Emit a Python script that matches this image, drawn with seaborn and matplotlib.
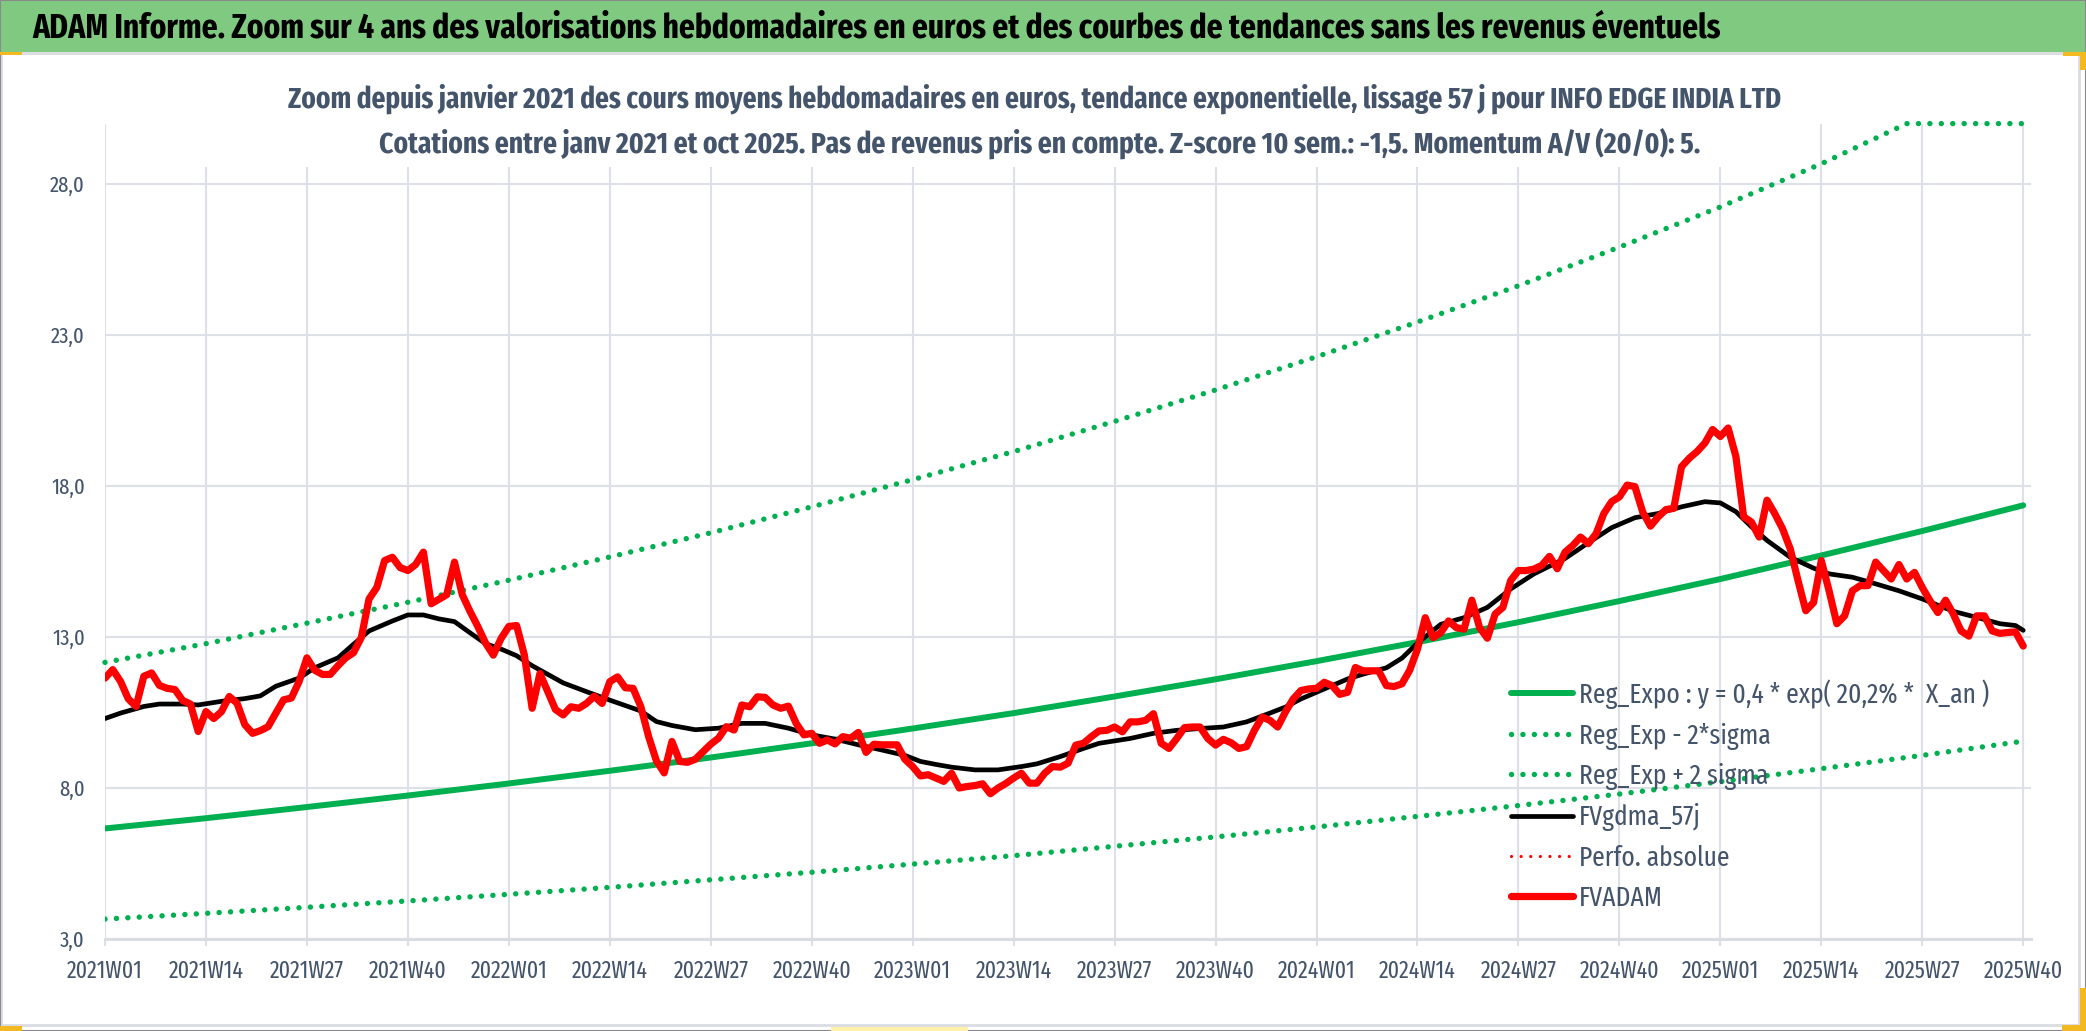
import os
import matplotlib
matplotlib.use("Agg")
import matplotlib.pyplot as plt
from matplotlib import font_manager as fm
from matplotlib.patches import Rectangle
from matplotlib.ticker import FixedLocator, FuncFormatter
import seaborn as sns

# ------------------------------------------------------------------ data
tick_labels = ["2021W01", "2021W14", "2021W27", "2021W40", "2022W01", "2022W14",
               "2022W27", "2022W40", "2023W01", "2023W14", "2023W27", "2023W40",
               "2024W01", "2024W14", "2024W27", "2024W40", "2025W01", "2025W14",
               "2025W27", "2025W40"]

fvadam = [
    11.64, 11.92, 11.53, 10.95, 10.70, 11.70, 11.81, 11.40, 11.30, 11.26, 10.90, 10.78, 9.87,
    10.53, 10.30, 10.53, 11.03, 10.81, 10.10, 9.81, 9.90, 10.03, 10.48, 10.92, 10.98, 11.53,
    12.31, 11.90, 11.76, 11.76, 12.05, 12.31, 12.48, 12.98, 14.26, 14.64, 15.53, 15.64, 15.30,
    15.20, 15.40, 15.81, 14.10, 14.25, 14.40, 15.48, 14.40, 13.85, 13.35, 12.80, 12.40, 12.95,
    13.35, 13.38, 12.40, 10.64, 11.79, 11.20, 10.60, 10.42, 10.69, 10.64, 10.80, 11.04, 10.80,
    11.52, 11.68, 11.32, 11.30, 10.69, 9.70, 8.90, 8.50, 9.54, 8.88, 8.85, 8.95, 9.20,
    9.45, 9.65, 10.03, 9.92, 10.75, 10.69, 11.02, 11.00, 10.75, 10.64, 10.71, 10.14, 9.76,
    9.81, 9.48, 9.59, 9.46, 9.70, 9.65, 9.84, 9.18, 9.45, 9.43, 9.43, 9.43, 8.95,
    8.71, 8.40, 8.44, 8.33, 8.22, 8.49, 8.00, 8.05, 8.08, 8.14, 7.81, 8.00, 8.15,
    8.33, 8.49, 8.16, 8.16, 8.49, 8.71, 8.69, 8.82, 9.42, 9.48, 9.70, 9.89, 9.91,
    10.02, 9.86, 10.19, 10.19, 10.24, 10.46, 9.48, 9.31, 9.64, 10.00, 10.02, 10.02, 9.64,
    9.42, 9.61, 9.50, 9.31, 9.37, 9.91, 10.35, 10.24, 10.02, 10.52, 10.95, 11.23, 11.28,
    11.30, 11.50, 11.39, 11.10, 11.17, 11.99, 11.88, 11.88, 11.88, 11.39, 11.36, 11.45, 11.90,
    12.60, 13.64, 12.98, 13.14, 13.53, 13.31, 13.26, 14.22, 13.31, 12.96, 13.76, 13.98, 14.87,
    15.20, 15.20, 15.25, 15.37, 15.67, 15.26, 15.81, 16.03, 16.31, 16.09, 16.42, 17.09, 17.48,
    17.64, 18.03, 17.98, 17.14, 16.67, 16.98, 17.22, 17.26, 18.64, 18.92, 19.14, 19.42, 19.87,
    19.64, 19.92, 18.98, 16.98, 16.81, 16.31, 17.53, 17.09, 16.59, 15.92, 14.87, 13.87, 14.14,
    15.53, 14.53, 13.44, 13.70, 14.53, 14.70, 14.70, 15.48, 15.20, 14.92, 15.40, 14.92, 15.14,
    14.64, 14.20, 13.81, 14.22, 13.76, 13.20, 13.03, 13.70, 13.70, 13.20, 13.12, 13.15, 13.17,
    12.70,
]

gdma_weeks = [0, 2, 5, 7, 10, 12, 15, 18, 20, 22, 25, 27, 30, 32, 34, 37, 39, 41, 43, 45,
              47, 49, 51, 53, 55, 59, 62, 65, 69, 71, 73, 76, 79, 82, 85, 88, 91, 94, 97,
              100, 103, 105, 107, 109, 112, 115, 118, 120, 123, 126, 128, 132, 135, 138,
              141, 144, 147, 150, 152, 154, 156, 158, 160, 162, 165, 167, 169, 172, 175,
              178, 181, 184, 188, 191, 194, 197, 200, 203, 206, 208, 210, 212, 214, 217,
              220, 222, 225, 228, 231, 234, 238, 241, 244, 246, 247]
gdma = [10.30, 10.48, 10.70, 10.78, 10.78, 10.75, 10.87, 10.96, 11.05, 11.37, 11.64, 11.98,
        12.31, 12.76, 13.20, 13.53, 13.73, 13.73, 13.60, 13.51, 13.14, 12.78, 12.60, 12.38,
        12.05, 11.48, 11.19, 10.91, 10.55, 10.20, 10.07, 9.93, 9.98, 10.14, 10.14, 9.98,
        9.76, 9.62, 9.43, 9.26, 9.08, 8.88, 8.78, 8.69, 8.60, 8.60, 8.71, 8.80, 9.04, 9.31,
        9.48, 9.64, 9.81, 9.91, 9.97, 10.02, 10.19, 10.48, 10.68, 10.95, 11.17, 11.39, 11.61,
        11.77, 11.98, 12.30, 12.80, 13.42, 13.64, 13.98, 14.59, 15.09, 15.60, 16.12, 16.62,
        16.95, 17.09, 17.31, 17.48, 17.44, 17.15, 16.65, 16.20, 15.64, 15.28, 15.09, 14.98,
        14.76, 14.53, 14.26, 13.85, 13.65, 13.44, 13.38, 13.22]

trend_weeks = [0, 13, 26, 39, 52, 65, 78, 91, 104, 117, 130, 143, 156, 169, 182, 195,
               208, 221, 234, 247]
reg_expo = [6.66, 7.00, 7.37, 7.75, 8.15, 8.57, 9.01, 9.48, 9.97, 10.48, 11.03, 11.60,
            12.20, 12.83, 13.49, 14.19, 14.92, 15.70, 16.51, 17.36]
reg_low = [3.66, 3.85, 4.05, 4.26, 4.48, 4.71, 4.96, 5.21, 5.48, 5.76, 6.07, 6.38, 6.71,
           7.06, 7.42, 7.80, 8.21, 8.64, 9.08, 9.55]
upper_weeks = [0, 13, 26, 39, 52, 65, 78, 91, 104, 117, 130, 143, 156, 169, 182, 195, 208,
               221, 232, 247]
reg_high = [12.16, 12.78, 13.46, 14.15, 14.88, 15.65, 16.45, 17.31, 18.21, 19.14, 20.14,
            21.18, 22.28, 23.43, 24.63, 25.91, 27.24, 28.67, 30.00, 30.00]

series_labels = ["Reg_Expo : y = 0,4 * exp( 20,2% *  X_an )", "Reg_Exp - 2*sigma",
                 "Reg_Exp + 2 sigma", "FVgdma_57j", "Perfo. absolue", "FVADAM"]

title = ("ADAM Informe. Zoom sur 4 ans des valorisations hebdomadaires en euros et des "
         "courbes de tendances sans les revenus éventuels")
sub1 = ("Zoom depuis janvier 2021 des cours moyens hebdomadaires en euros, tendance "
        "exponentielle, lissage 57 j pour INFO EDGE INDIA LTD")
sub2 = ("Cotations entre janv 2021 et oct 2025. Pas de revenus pris en compte. "
        "Z-score 10 sem.: -1,5. Momentum A/V (20/0): 5.")

# ------------------------------------------------------------------ fonts
sns.set_theme(style="white")
plt.rcParams["font.family"] = ["Liberation Sans", "DejaVu Sans"]


def _weight(f):
    w = f.weight
    if isinstance(w, str):
        w = {"bold": 700, "normal": 400, "regular": 400}.get(w.lower(), 400)
    return w


def _key(f):
    return os.path.basename(f.fname).lower().replace(" ", "").replace("_", "").replace("-", "")


PATTERNS = ["firasansextracondensed", "notosansextracondensed", "sofiasansextracondensed",
            "opensanscondensed", "encodesanscondensed", "firasanscondensed",
            "robotocondensed"]


def pick_fonts():
    for pat in PATTERNS:
        reg = bold = None
        for f in fm.fontManager.ttflist:
            k = _key(f)
            if pat not in k or "italic" in k or "oblique" in k:
                continue
            if pat.endswith("sanscondensed") and ("extra" in k or "semi" in k):
                continue
            w = _weight(f)
            var = "[" in k
            if 380 <= w <= 420 and (reg is None or (reg[1] and not var)):
                reg = (f.fname, var)
            if 650 <= w <= 720 and not var and bold is None:
                bold = (f.fname, var)
        if reg and bold:
            return reg[0], bold[0]
    return None, None


REG_FILE, BOLD_FILE = pick_fonts()


def fprop(bold, size):
    path = BOLD_FILE if bold else REG_FILE
    if path:
        return fm.FontProperties(fname=path, size=size)
    return fm.FontProperties(family=["Liberation Sans", "DejaVu Sans"],
                             weight="bold" if bold else "normal", size=size)


GREEN = "#00B050"
RED = "#FF0000"
SLATE = "#44546A"
GRID = "#DDE0E6"
BAR = "#80C980"

W, H = 2086, 1031
fig = plt.figure(figsize=(W / 100, H / 100), dpi=100, facecolor="white")
fig.canvas.draw()
renderer = fig.canvas.get_renderer()


def X(px):
    return px / W


def Y(py):
    return 1 - py / H


def fit_size(text, target_w, bold=False, base=20.0):
    t = fig.text(0, 0, text, fontproperties=fprop(bold, base))
    w = t.get_window_extent(renderer).width
    t.remove()
    return base * target_w / w


def text_h(size):
    t = fig.text(0, 0, "Reg_Exp", fontproperties=fprop(False, size))
    h = t.get_window_extent(renderer).height
    t.remove()
    return h


# ------------------------------------------------------------------ frame decorations
fig.patches.append(Rectangle((0, Y(52)), 1, 52 / H, transform=fig.transFigure,
                             facecolor=BAR, edgecolor="none", zorder=0))
fig.patches.append(Rectangle((X(1), Y(1025)), X(2079) - X(1), (1025 - 53) / H,
                             transform=fig.transFigure, facecolor="none",
                             edgecolor="#D9DCE1", lw=2.0, zorder=1))
fig.patches.append(Rectangle((0, 0), 1, 1, transform=fig.transFigure, facecolor="none",
                             edgecolor="#8A8A8A", lw=1.5, zorder=1))
ORANGE = "#F2B920"
for (x0, y0, x1, y1, c) in [(0, 52, 22, 55, ORANGE), (2063, 52, 2086, 56, ORANGE),
                            (2080, 52, 2086, 70, ORANGE), (0, 1026, 22, 1031, ORANGE),
                            (2080, 988, 2086, 1031, ORANGE), (2062, 1025, 2086, 1031, ORANGE),
                            (831, 1027, 968, 1031, "#FFF1A8")]:
    fig.patches.append(Rectangle((X(x0), Y(y1)), X(x1) - X(x0), (y1 - y0) / H,
                                 transform=fig.transFigure, facecolor=c,
                                 edgecolor="none", zorder=2))

# ------------------------------------------------------------------ titles
fig.text(X(32), Y(28), title, fontproperties=fprop(True, fit_size(title, 1696, True)),
         color="black", ha="left", va="center", zorder=5)
fig.text(X(1035), Y(99), sub1, fontproperties=fprop(True, fit_size(sub1, 1491, True)),
         color=SLATE, ha="center", va="center", zorder=5)
fig.text(X(1040), Y(143), sub2, fontproperties=fprop(True, fit_size(sub2, 1323, True)),
         color=SLATE, ha="center", va="center", zorder=5)

# ------------------------------------------------------------------ axes
ax = fig.add_axes([X(105), Y(939), X(2031) - X(105), (939 - 123.6) / H])
ax.set_facecolor("white")

cats = [f"{y}W{w:02d}" for y in range(2021, 2026) for w in range(1, 53)][:len(fvadam)]
weeks = list(range(len(cats)))
tick_pos = [cats.index(t) for t in tick_labels]

# white chart-title box hiding the top of the gridlines
ax.add_patch(Rectangle((X(190), Y(167)), X(1800) - X(190), (167 - 60) / H,
                       transform=fig.transFigure, facecolor="white", edgecolor="none",
                       zorder=1, clip_on=False))

dot = (0, (0.01, 2.1))
sns.lineplot(x=trend_weeks, y=reg_expo, ax=ax, color=GREEN, linewidth=4.3,
             label=series_labels[0], solid_capstyle="round", zorder=3)
sns.lineplot(x=trend_weeks, y=reg_low, ax=ax, color=GREEN, linewidth=3.9, linestyle=dot,
             dash_capstyle="round", label=series_labels[1], zorder=3)
sns.lineplot(x=upper_weeks, y=reg_high, ax=ax, color=GREEN, linewidth=3.9, linestyle=dot,
             dash_capstyle="round", label=series_labels[2], clip_on=False, zorder=3)
sns.lineplot(x=gdma_weeks, y=gdma, ax=ax, color="black", linewidth=3.4,
             label=series_labels[3], solid_capstyle="round", zorder=4)
ax.plot([], [], color=RED, linewidth=2.3, linestyle=(0, (0.01, 3.0)),
        dash_capstyle="round", label=series_labels[4])
sns.lineplot(x=weeks, y=fvadam, ax=ax, color=RED, linewidth=5.2,
             label=series_labels[5], solid_joinstyle="round", solid_capstyle="round",
             zorder=5)

ax.set_xlim(0, 248)
ax.set_ylim(3, 30)
ax.xaxis.set_major_locator(FixedLocator(tick_pos))
ax.set_xticklabels(tick_labels)
ax.yaxis.set_major_locator(FixedLocator([3, 8, 13, 18, 23, 28]))
ax.yaxis.set_major_formatter(FuncFormatter(lambda v, _: f"{v:.1f}".replace(".", ",")))
ax.set_xlabel("")
ax.set_ylabel("")
ax.grid(True, color=GRID, linewidth=1.5, zorder=0)
ax.set_axisbelow(True)
for s in ["top", "right", "left"]:
    ax.spines[s].set_visible(False)
ax.spines["bottom"].set_color("#D9DCE1")
ax.spines["bottom"].set_linewidth(2.2)

xs = fit_size("2021W01", 76)
ys = fit_size("28,0", 35)
ax.tick_params(axis="x", length=5, width=1.5, color=GRID, pad=10.0,
               labelcolor=SLATE, bottom=True)
ax.tick_params(axis="y", length=0, pad=14.4, labelcolor=SLATE, left=True)
for lab in ax.get_xticklabels():
    lab.set_fontproperties(fprop(False, xs))
for lab in ax.get_yticklabels():
    lab.set_fontproperties(fprop(False, ys))

# ------------------------------------------------------------------ legend
ls = fit_size(series_labels[0], 410)
fpx = ls * 100 / 72
th = text_h(ls)
handles, labels = ax.get_legend_handles_labels()
leg = ax.legend(handles, labels, loc="upper left",
                bbox_to_anchor=(X(1511), Y(693 - th / 2)), bbox_transform=fig.transFigure,
                frameon=False, prop=fprop(False, ls), labelcolor=SLATE, borderpad=0,
                borderaxespad=0, handlelength=62 / fpx, handletextpad=6 / fpx,
                labelspacing=(40 - th) / fpx)
leg.set_zorder(6)

fig.savefig("out.png", dpi=100, facecolor="white")
